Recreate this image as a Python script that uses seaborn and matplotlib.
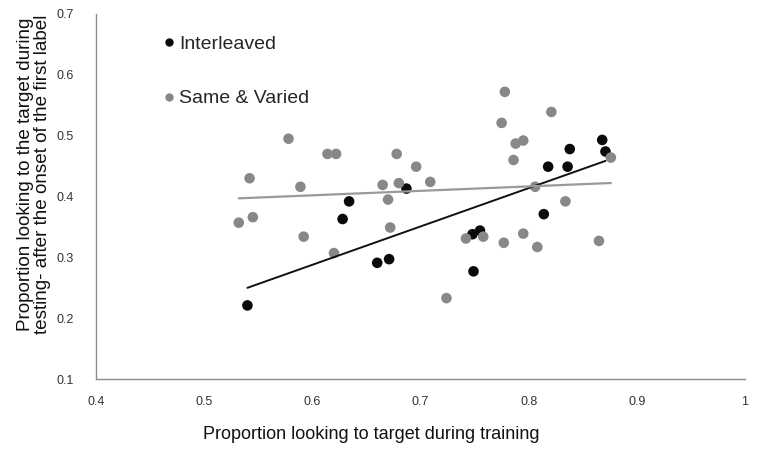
import numpy as np
import pandas as pd
import matplotlib
matplotlib.use("Agg")
import matplotlib.pyplot as plt
import seaborn as sns
from matplotlib.lines import Line2D

# ---- data ----
interleaved_x = [0.540, 0.628, 0.634, 0.660, 0.671, 0.687, 0.748, 0.755, 0.749,
                 0.814, 0.818, 0.836, 0.838, 0.868, 0.871]
interleaved_y = [0.221, 0.363, 0.392, 0.291, 0.297, 0.413, 0.338, 0.344, 0.277,
                 0.371, 0.449, 0.449, 0.478, 0.493, 0.474]

same_varied_x = [0.578, 0.614, 0.622, 0.678, 0.542, 0.589, 0.665, 0.680, 0.670,
                 0.532, 0.545, 0.672, 0.592, 0.620, 0.778, 0.821, 0.775, 0.788,
                 0.795, 0.786, 0.696, 0.709, 0.806, 0.834, 0.742, 0.758, 0.777,
                 0.795, 0.808, 0.724, 0.865, 0.876]
same_varied_y = [0.495, 0.470, 0.470, 0.470, 0.430, 0.416, 0.419, 0.422, 0.395,
                 0.357, 0.366, 0.349, 0.334, 0.307, 0.572, 0.539, 0.521, 0.487,
                 0.492, 0.460, 0.449, 0.424, 0.416, 0.392, 0.331, 0.334, 0.324,
                 0.339, 0.317, 0.233, 0.327, 0.464]

groups = ["Interleaved", "Same & Varied"]
x_ticks = [0.4, 0.5, 0.6, 0.7, 0.8, 0.9, 1.0]
x_tick_labels = ["0.4", "0.5", "0.6", "0.7", "0.8", "0.9", "1"]
y_ticks = [0.1, 0.2, 0.3, 0.4, 0.5, 0.6, 0.7]

df = pd.concat([
    pd.DataFrame({"train": interleaved_x, "test": interleaved_y, "group": groups[0]}),
    pd.DataFrame({"train": same_varied_x, "test": same_varied_y, "group": groups[1]}),
], ignore_index=True)

colors = {"Interleaved": "#0a0a0a", "Same & Varied": "#888888"}
line_colors = {"Interleaved": "#111111", "Same & Varied": "#9a9a9a"}

sns.set_style("white")
plt.rcParams["font.family"] = ["Liberation Sans", "DejaVu Sans"]

fig = plt.figure(figsize=(7.63, 4.51), dpi=100)
ax = fig.add_axes([0.1258, 0.1596, 0.8506, 0.8094])

# points first, fitted lines on top
sns.scatterplot(data=df, x="train", y="test", hue="group", palette=colors,
                s=58, edgecolor="none", legend=False, ax=ax, zorder=2)

for g in groups:
    sub = df[df["group"] == g]
    sns.regplot(data=sub, x="train", y="test", scatter=False, ci=None,
                truncate=True, color=line_colors[g],
                line_kws={"linewidth": 1.4 if g == "Interleaved" else 1.6, "zorder": 3},
                ax=ax)

ax.set_xlim(0.4, 1.0)
ax.set_ylim(0.1, 0.7)
ax.set_xticks(x_ticks)
ax.set_xticklabels(x_tick_labels)
ax.set_yticks(y_ticks)
ax.set_yticklabels([f"{v:.1f}" for v in y_ticks])

for side in ["top", "right"]:
    ax.spines[side].set_visible(False)
for side in ["left", "bottom"]:
    ax.spines[side].set_color("#8c8c8c")
    ax.spines[side].set_linewidth(1.0)
ax.tick_params(axis="both", direction="out", length=4, width=1, color="#8c8c8c",
               labelsize=9, labelcolor="#333333")
ax.tick_params(axis="y", pad=12)
ax.tick_params(axis="x", pad=8)

ax.set_xlabel("Proportion looking to target during training", fontsize=13, color="#111111")
ax.xaxis.set_label_coords(0.424, -0.128)
ax.set_ylabel("Proportion looking to the target during\ntesting- after the onset of the first label",
              fontsize=13.6, color="#111111", linespacing=1.0)
ax.yaxis.set_label_coords(-0.07, 0.56)

handles = [Line2D([], [], marker="o", linestyle="none", markersize=6,
                  markerfacecolor=colors[g], markeredgecolor="none") for g in groups]
ax.legend(handles, groups, loc="upper left", bbox_to_anchor=(0.086, 0.962),
          frameon=False, fontsize=14, handletextpad=0.0, labelspacing=1.88,
          handlelength=1.0, borderaxespad=0)

fig.savefig("out.png", dpi=100)
